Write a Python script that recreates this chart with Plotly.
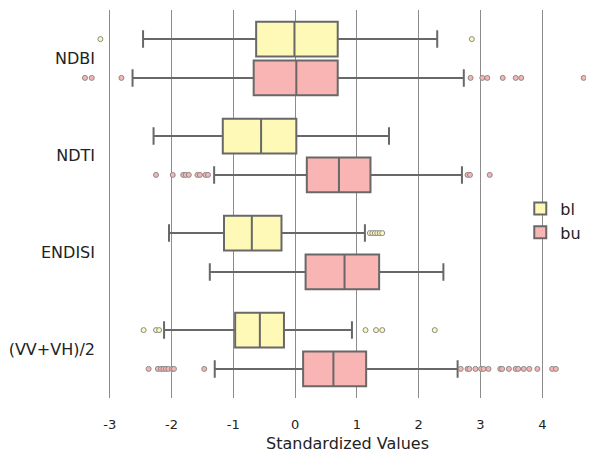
import plotly.graph_objects as go

categories = ["NDBI", "NDTI", "ENDISI", "(VV+VH)/2"]
groups = ["bl", "bu"]
x_title = "Standardized Values"

# box statistics per group, in category order
bl_lowerfence = [-2.46, -2.29, -2.04, -2.12]
bl_q1 = [-0.63, -1.17, -1.15, -0.97]
bl_median = [-0.01, -0.55, -0.70, -0.57]
bl_q3 = [0.69, 0.02, -0.22, -0.18]
bl_upperfence = [2.30, 1.52, 1.13, 0.92]

bu_lowerfence = [-2.63, -1.31, -1.38, -1.30]
bu_q1 = [-0.67, 0.19, 0.17, 0.13]
bu_median = [0.02, 0.71, 0.80, 0.62]
bu_q3 = [0.69, 1.22, 1.36, 1.15]
bu_upperfence = [2.73, 2.70, 2.40, 2.63]

# outliers per category
bl_outliers = [
    [-3.15, 2.86],
    [],
    [1.21, 1.25, 1.29, 1.33, 1.37, 1.41],
    [-2.45, -2.25, -2.20, 1.14, 1.31, 1.41, 2.26],
]
bu_outliers = [
    [-3.40, -3.29, -2.81, 2.84, 3.03, 3.11, 3.36, 3.57, 3.66, 4.67],
    [-2.25, -1.98, -1.81, -1.77, -1.72, -1.58, -1.54, -1.45, -1.41, 2.79, 2.83, 3.15],
    [],
    [-2.37, -2.22, -2.17, -2.13, -2.09, -2.05, -1.99, -1.96, -1.47,
     2.68, 2.79, 2.82, 2.92, 3.01, 3.05, 3.13, 3.32, 3.35, 3.46, 3.57,
     3.61, 3.70, 3.79, 3.92, 4.16, 4.22],
]

fills = {"bl": "#fef9b6", "bu": "#f8b5b4"}
offsets = {"bl": -0.2, "bu": 0.2}
stats = {
    "bl": (bl_lowerfence, bl_q1, bl_median, bl_q3, bl_upperfence, bl_outliers),
    "bu": (bu_lowerfence, bu_q1, bu_median, bu_q3, bu_upperfence, bu_outliers),
}

FONT = "DejaVu Sans"
fig = go.Figure()
for g in groups:
    lf, q1, med, q3, uf, outs = stats[g]
    pos = [i + offsets[g] for i in range(len(categories))]
    fig.add_trace(go.Box(
        name=g, y=pos, q1=q1, median=med, q3=q3,
        lowerfence=lf, upperfence=uf, orientation="h",
        width=0.36, whiskerwidth=0.5, boxpoints=False,
        fillcolor=fills[g], line=dict(color="#686868", width=2),
        showlegend=True,
    ))
for g in groups:
    outs = stats[g][5]
    xs, ys = [], []
    for i, lst in enumerate(outs):
        for v in lst:
            xs.append(v)
            ys.append(i + offsets[g])
    fig.add_trace(go.Scatter(
        x=xs, y=ys, mode="markers", showlegend=False, cliponaxis=False,
        marker=dict(size=5, color=fills[g], line=dict(color="#8a8a8a", width=1)),
        hoverinfo="x",
    ))

# page body adds an 8px margin, so the figure is 8px smaller than the window
fig.update_layout(
    width=586, height=449,
    margin=dict(l=74, r=0, t=2, b=59, autoexpand=False),
    plot_bgcolor="white", paper_bgcolor="white",
    font=dict(family=FONT, color="#222222"),
    boxmode="overlay",
    legend=dict(x=0.856, y=0.532, xanchor="left", yanchor="top",
                bgcolor="rgba(0,0,0,0)", font=dict(size=16, family=FONT),
                itemwidth=30, tracegroupgap=2),
    xaxis=dict(range=[-3.448, 4.837], tickvals=[-3, -2, -1, 0, 1, 2, 3, 4],
               ticktext=["-3", "-2", "-1", "0", "1", "2", "3", "4"],
               showgrid=True, gridcolor="#8c8c8c", gridwidth=1,
               zeroline=False, showline=False, ticks="", automargin=False,
               tickfont=dict(size=13, family=FONT),
               ticklabelstandoff=17),
    yaxis=dict(range=[3.5, -0.5], tickvals=list(range(len(categories))),
               ticktext=categories, showgrid=False, zeroline=False, showline=False,
               ticks="", automargin=False, ticklabelstandoff=-14,
               tickfont=dict(size=16, family=FONT)),
    annotations=[dict(text=x_title, xref="paper", yref="paper",
                      x=0.5176, y=-0.116, xanchor="center", yanchor="middle",
                      showarrow=False, font=dict(size=16, family=FONT))],
)

fig.write_html("out.html")
